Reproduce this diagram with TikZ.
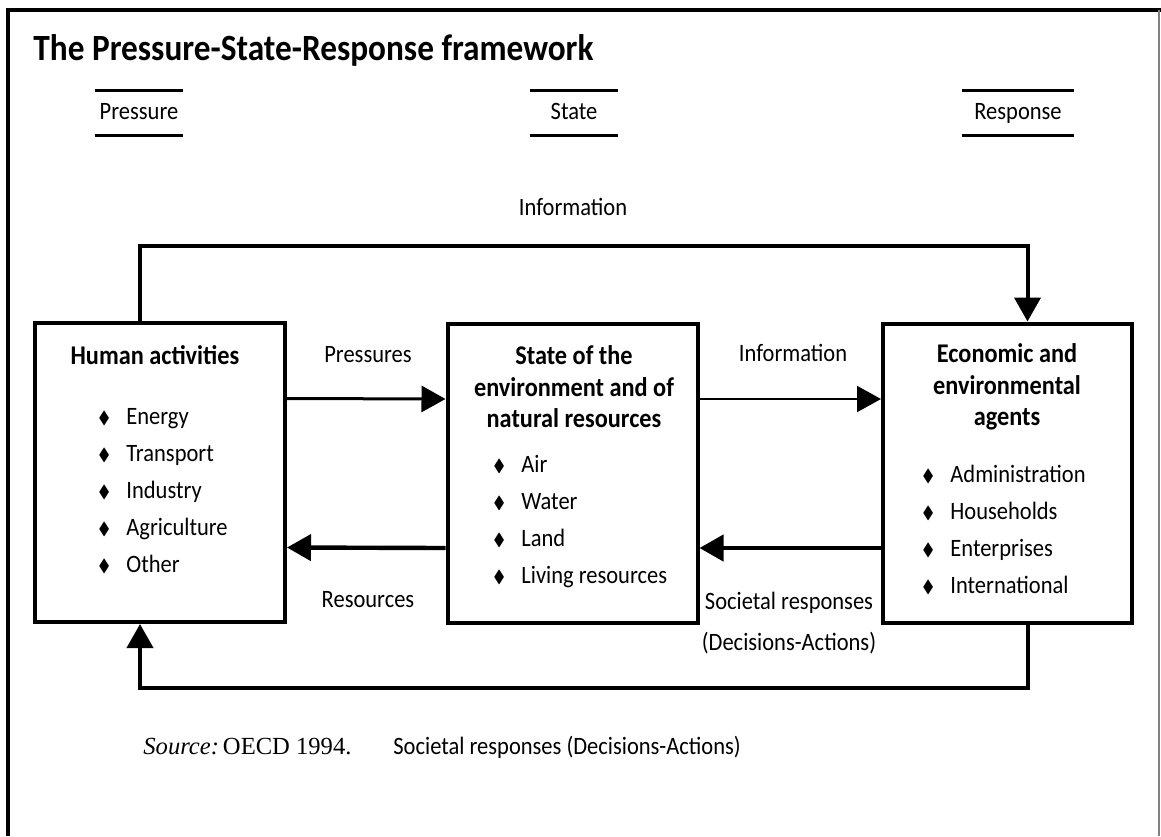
\documentclass[tikz,border=0pt]{standalone}
\usepackage{amssymb}
\usepackage{fontspec}
\setmainfont[FakeStretch=0.9]{Carlito}
\newfontfamily\srcfont{Liberation Serif}
\usetikzlibrary{arrows.meta}

\newcommand{\itm}{\makebox[14pt][l]{\raisebox{0.6pt}{\scalebox{0.7}{$\blacklozenge$}}}}

\tikzset{
  box/.style={draw,line width=2pt,minimum width=125pt,minimum height=149.5pt,inner sep=0pt},
  boxhead/.style={font=\fontsize{13.5}{15.7}\selectfont\bfseries,align=center},
  itemlist/.style={font=\fontsize{12.5}{18.5}\selectfont,align=left,anchor=north west,inner sep=0pt},
  lbl/.style={font=\fontsize{12.5}{20.5}\selectfont,align=center},
  colhead/.style={font=\fontsize{12.5}{14}\selectfont,minimum height=22.5pt,inner sep=0pt,
    text height=8.5pt,text depth=2.5pt},
  rule/.style={line width=1.5pt},
  feedback/.style={line width=2pt}
}

\begin{document}
\begin{tikzpicture}[x=0.5pt,y=-0.5pt,>={Triangle[length=12pt,width=13pt]}]
  \useasboundingbox (0,0) rectangle (1161,836);
  % frame
  \draw[line width=2pt] (8,836) -- (8,10) -- (1161,10);
  \draw[gray,line width=1pt] (1159,10) -- (1159,836);

  \node[anchor=base west,inner sep=0pt,font=\fontsize{18.5}{20}\selectfont\bfseries] (title) at (33,60) {The Pressure-State-Response framework};

  % column heads
  \node[colhead,minimum width=44pt]   (pressure) at (139,113)  {Pressure};
  \node[colhead,minimum width=44pt]   (state)    at (574,113)  {State};
  \node[colhead,minimum width=55.5pt] (response) at (1018,113) {Response};
  \foreach \n in {pressure,state,response} {
    \draw[rule] (\n.north west) -- (\n.north east);
    \draw[rule] (\n.south west) -- (\n.south east);
  }

  % boxes
  \node[box] (human)  at (160,472.5)  {};
  \node[box] (env)    at (572.5,473)  {};
  \node[box,minimum width=124.5pt] (agents) at (1007.5,473) {};

  \node[boxhead] (humanhead) at (155,355) {Human activities};
  \node[itemlist] (humanlist) at (98,408)
    {\itm Energy\\ \itm Transport\\ \itm Industry\\ \itm Agriculture\\ \itm Other};

  \node[boxhead] (envhead) at (574,387) {State of the\\ environment and of\\ natural resources};
  \node[itemlist] (envlist) at (493,455)
    {\itm Air\\ \itm Water\\ \itm Land\\ \itm Living resources};

  \node[boxhead] (agentshead) at (1007,387) {Economic and\\ environmental\\ agents};
  \node[itemlist] (agentslist) at (922,465)
    {\itm Administration\\ \itm Households\\ \itm Enterprises\\ \itm International};

  % flows between boxes
  \draw[->,line width=1.5pt] ([yshift=37pt]human.east) -- ([yshift=37pt]env.west);
  \draw[->,line width=1pt] ([yshift=37pt]env.east) -- ([yshift=37pt]agents.west);
  \draw[->,line width=2.2pt] ([yshift=-37.5pt]env.west) -- ([yshift=-37.5pt]human.east);
  \draw[->,line width=2.2pt] ([yshift=-37.5pt]agents.west) -- ([yshift=-37.5pt]env.east);

  \node[lbl] (pres)  at (368,355) {Pressures};
  \node[lbl] (res)   at (368,600) {Resources};
  \node[lbl] (info)  at (793,353) {Information};
  \node[lbl] (soc)   at (789,623) {Societal responses\\ (Decisions-Actions)};

  % outer loops
  \draw[->,feedback] ([xshift=-10pt]human.north) -- ++(0,-75) -| ([xshift=10pt]agents.north);
  \draw[->,feedback] ([xshift=10pt]agents.south) -- ++(0,63) -| ([xshift=-10pt]human.south);
  \node[lbl] (topinfo) at (573,207) {Information};

  % source
  \node[anchor=base west,inner sep=0pt,font=\srcfont\fontsize{12.3}{14}\selectfont] (src) at (143,754) {\textit{Source:}\kern2pt OECD 1994.};
  \node[anchor=base west,inner sep=0pt,font=\fontsize{12.5}{14}\selectfont] (srcnote) at (393,754) {Societal responses (Decisions-Actions)};
\end{tikzpicture}
\end{document}
